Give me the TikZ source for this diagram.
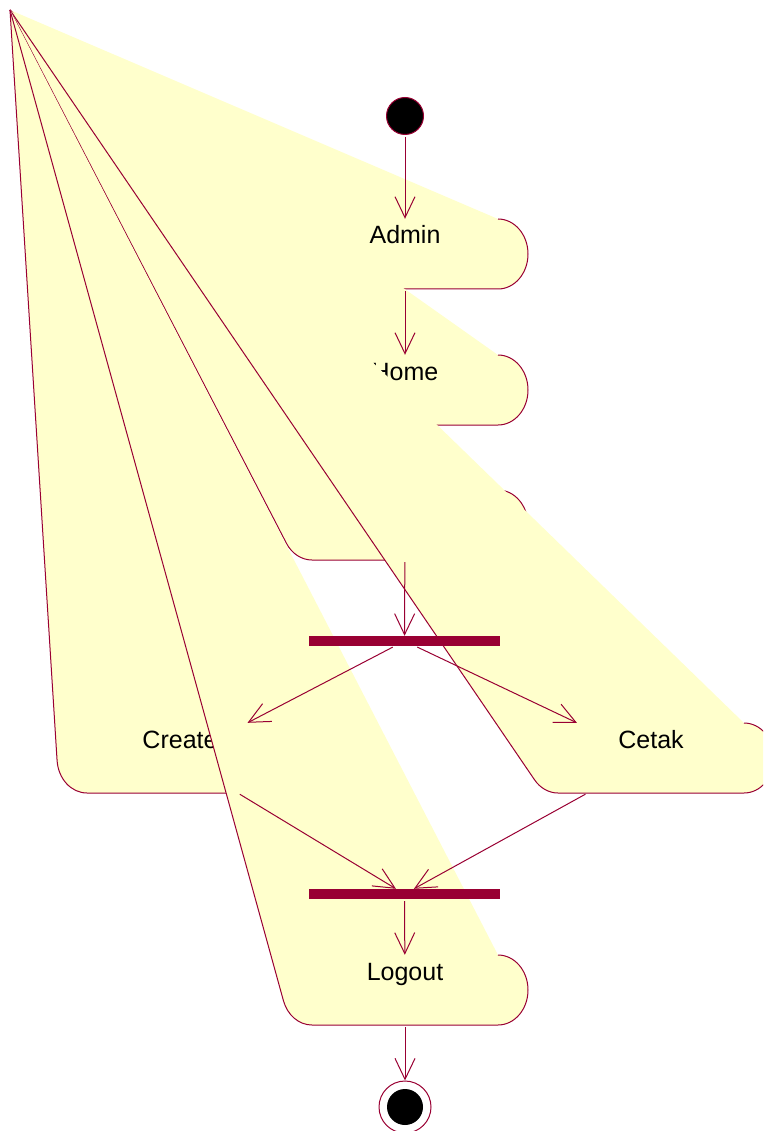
\documentclass[tikz,border=0pt]{standalone}
\usepackage{fontspec}
\setmainfont{Liberation Sans}
\usetikzlibrary{arrows.meta}
\usepackage{xcolor}
\definecolor{rosered}{HTML}{990033}
\definecolor{roseyellow}{HTML}{FFFFCC}

\tikzset{
  actfill/.style={fill=roseyellow},
  actline/.style={draw=rosered, line width=1pt},
  actbox/.style={minimum width=246pt, minimum height=70pt, inner sep=0pt},
  acttext/.style={anchor=base, inner sep=0pt, font=\fontsize{25pt}{30pt}\selectfont},
  bar/.style={fill=rosered, minimum width=191pt, minimum height=10pt, inner sep=0pt},
  initstate/.style={circle, fill=black, draw=rosered, line width=1pt, minimum size=37pt, inner sep=0pt},
  endstate/.style={circle, draw=rosered, line width=1pt, minimum size=52pt, inner sep=0pt,
    path picture={\fill[black] (path picture bounding box.center) circle[radius=18pt];}},
  flow/.style={draw=rosered, line width=1pt, -{Straight Barb[length=21pt,width=20pt]}, shorten <=2pt},
}

% activity box, its top left corner pulled up to (10,10)
\newcommand{\activity}[4]{%
  \pgfmathsetmacro{\acta}{0.035*(#2-103)}%
  \pgfmathsetmacro{\actb}{0.03*(#3-10)}%
  \pgfmathsetmacro{\actang}{atan2(\actb,\acta)+acos(-1.05/sqrt(\acta*\acta+\actb*\actb))}%
  \fill[actfill] (10,10) -- (#2+93,#3-35)
    arc[start angle=-90, end angle=90, x radius=30, y radius=35]
    -- (#2-93,#3+35)
    arc[start angle=90, end angle=\actang, x radius=30, y radius=35] -- cycle;
  \draw[actline] (#2+93,#3-35)
    arc[start angle=-90, end angle=90, x radius=30, y radius=35]
    -- (#2-93,#3+35)
    arc[start angle=90, end angle=\actang, x radius=30, y radius=35] -- (10,10);
  \node[actbox] (#1) at (#2,#3) {};
  \node[acttext] (#1 text) at ([yshift=10pt]#1.center) {#4};
}

\begin{document}
\begin{tikzpicture}[x=1pt, y=-1pt]
  \useasboundingbox (0,0) rectangle (763,1131);
  \clip (0,0) rectangle (763,1131);

  % activities, in drawing order
  \activity{admin}{405}{254}{Admin}
  \activity{home}{405}{390}{Home}
  \activity{menu}{405}{525}{}
  \activity{create}{180}{758}{Create}
  \activity{cetak}{651}{758}{Cetak}
  \activity{logout}{405}{990}{Logout}

  \node[initstate] (init) at (405,116) {};
  \node[bar] (fork) at (404.5,641) {};
  \node[bar] (join) at (404.5,894) {};
  \node[endstate] (final) at (405,1107) {};

  \draw[flow] (init) -- (admin);
  \draw[flow] (admin) -- (home);
  \draw[flow] (menu) -- (fork);
  \draw[flow] (fork) -- (create);
  \draw[flow] (fork) -- (cetak);
  \draw[flow] (create) -- (join);
  \draw[flow] (cetak) -- (join);
  \draw[flow] (join) -- (logout);
  \draw[flow] (logout) -- (final);
\end{tikzpicture}
\end{document}
